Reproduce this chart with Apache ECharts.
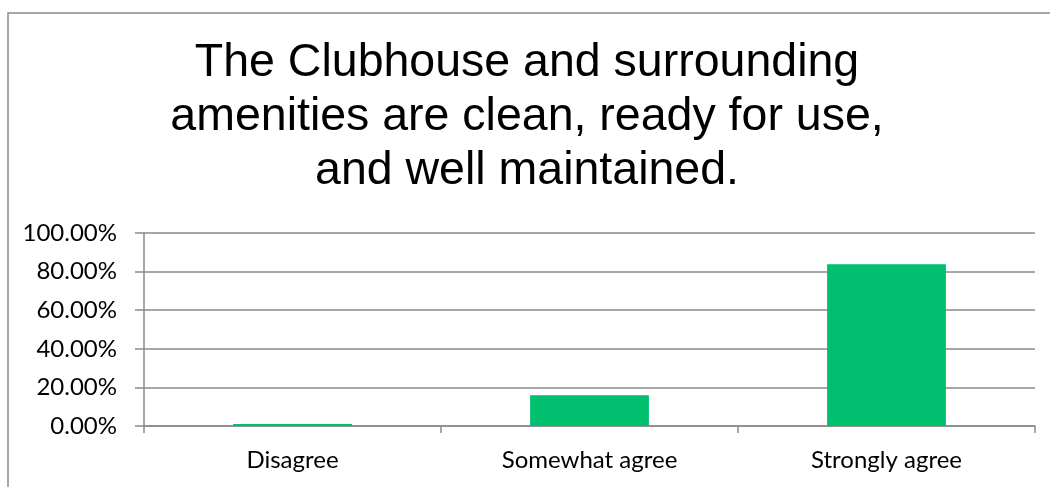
<!DOCTYPE html>
<html>
<head>
<meta charset="utf-8">
<script src="https://cdn.jsdelivr.net/npm/echarts@6/dist/echarts.min.js"></script>
<style>
  html, body { margin: 0; padding: 0; background: #fff; }
  #chart { width: 1050px; height: 487px; }
</style>
</head>
<body>
<div id="chart"></div>
<script>
// Survey responses (percent of respondents)
const categories = ['Disagree', 'Somewhat agree', 'Strongly agree'];
const shares = [1.0, 15.9, 83.8];
const yTicks = { min: 0, max: 100, interval: 20 };
const titleText = 'The Clubhouse and surrounding\namenities are clean, ready for use,\nand well maintained.';

const labelFont = 'Lato, "Open Sans", sans-serif';
const lineGray = '#8a8a8a';

const chart = echarts.init(document.getElementById('chart'), null, { renderer: 'canvas' });
chart.setOption({
  animation: false,
  backgroundColor: '#fff',
  graphic: [{
    type: 'rect',
    shape: { x: 8, y: 13, width: 1200, height: 700 },
    style: { fill: 'none', stroke: lineGray, lineWidth: 1.5 },
    silent: true,
    z: -1
  }],
  title: {
    text: titleText,
    left: 522,
    top: 31,
    textAlign: 'center',
    textStyle: {
      fontFamily: '"Liberation Sans", Arial, sans-serif',
      fontSize: 46.5,
      fontWeight: 'normal',
      lineHeight: 54,
      color: '#000',
      align: 'center'
    }
  },
  grid: { left: 144, right: 15, top: 233, bottom: 61, containLabel: false },
  xAxis: {
    type: 'category',
    data: categories,
    axisLine: { lineStyle: { color: lineGray, width: 1.5 } },
    axisTick: { show: true, alignWithLabel: false, length: 7, lineStyle: { color: lineGray, width: 1.5 } },
    axisLabel: { color: '#000', fontFamily: labelFont, fontSize: 24, margin: 22 }
  },
  yAxis: {
    type: 'value',
    min: yTicks.min,
    max: yTicks.max,
    interval: yTicks.interval,
    axisLine: { show: true, lineStyle: { color: lineGray, width: 1.5 } },
    axisTick: { show: true, inside: false, length: 9, lineStyle: { color: lineGray, width: 1.5 } },
    splitLine: { show: true, lineStyle: { color: lineGray, width: 1.5 } },
    axisLabel: {
      color: '#000',
      fontFamily: labelFont,
      fontSize: 24,
      margin: 27,
      formatter: v => v.toFixed(2) + '%'
    }
  },
  series: [{
    type: 'bar',
    data: shares,
    barWidth: '40%',
    itemStyle: { color: '#00bf6f' }
  }]
});
</script>
</body>
</html>
